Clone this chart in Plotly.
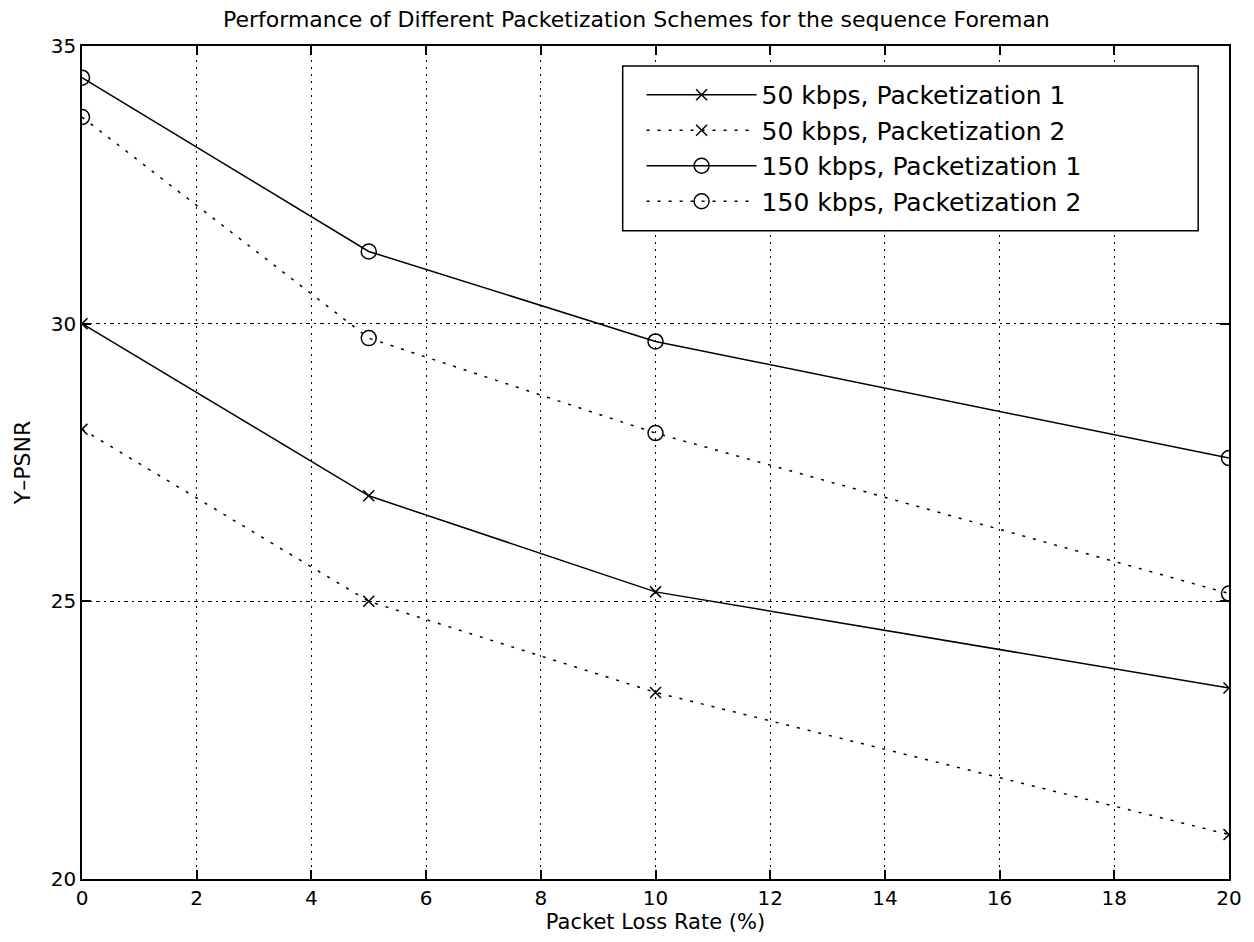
import plotly.graph_objects as go

# Data
loss_rate = [0, 5, 10, 20]
psnr_50_p1 = [30.0, 26.9, 25.17, 23.44]
psnr_50_p2 = [28.1, 25.0, 23.36, 20.8]
psnr_150_p1 = [34.43, 31.3, 29.68, 27.58]
psnr_150_p2 = [33.72, 29.74, 28.03, 25.14]

series_names = [
    "50 kbps, Packetization 1",
    "50 kbps, Packetization 2",
    "150 kbps, Packetization 1",
    "150 kbps, Packetization 2",
]
x_ticks = [0, 2, 4, 6, 8, 10, 12, 14, 16, 18, 20]
y_ticks = [20, 25, 30, 35]

FONT = "DejaVu Sans"
dotted = "3px,8px"

fig = go.Figure()

def add(y, name, dash, symbol, size):
    fig.add_trace(go.Scatter(
        x=loss_rate, y=y, name=name, mode="lines+markers",
        line=dict(color="black", width=1.5, dash=dash),
        marker=dict(symbol=symbol, size=size, color="black",
                    line=dict(color="black", width=1.5)),
    ))

add(psnr_50_p1, series_names[0], "solid", "x-thin-open", 11)
add(psnr_50_p2, series_names[1], dotted, "x-thin-open", 11)
add(psnr_150_p1, series_names[2], "solid", "circle-open", 15)
add(psnr_150_p2, series_names[3], dotted, "circle-open", 15)

# page body has an 8px default margin; compensate so the plot area
# lands at screen x 82..1236, y 46..880
BODY = 8
W, H = 1254 - BODY, 942 - BODY
PLOT_L, PLOT_R, PLOT_T, PLOT_B = 82, 1236, 46, 880
L = PLOT_L - BODY
T = PLOT_T - BODY
R = (BODY + W) - PLOT_R
B = (BODY + H) - PLOT_B
pw, ph = PLOT_R - PLOT_L, PLOT_B - PLOT_T

def px_x(p):
    return (p - PLOT_L) / pw

def px_y(p):
    return (PLOT_B - p) / ph

fig.add_shape(type="rect", xref="paper", yref="paper",
              x0=px_x(626), x1=px_x(1205), y0=px_y(231), y1=px_y(66),
              line=dict(color="black", width=1.5), fillcolor="white",
              layer="above")

fig.update_layout(
    width=W, height=H,
    margin=dict(l=L, r=R, t=T, b=B),
    paper_bgcolor="white", plot_bgcolor="white",
    font=dict(family=FONT, color="black", size=20),
    title=dict(text="Performance of Different Packetization Schemes for the sequence Foreman",
               x=px_x(664), xanchor="center", y=1 - (19 - BODY) / H, yanchor="middle",
               font=dict(family=FONT, size=22, color="black")),
    showlegend=True,
    legend=dict(x=px_x(645), y=px_y(72), xanchor="left", yanchor="top",
                bgcolor="rgba(0,0,0,0)", borderwidth=0,
                font=dict(family=FONT, size=25, color="black"),
                itemwidth=110, tracegroupgap=0),
    xaxis=dict(range=[0, 20], tickvals=x_ticks, ticktext=[str(v) for v in x_ticks],
               showgrid=True, gridcolor="black", gridwidth=1, griddash="2px,5px",
               showline=True, linecolor="black", linewidth=1.5, mirror="allticks",
               ticks="inside", ticklen=9, tickwidth=1.5, tickcolor="black",
               zeroline=False, tickfont=dict(size=20),
               title=dict(text="Packet Loss Rate (%)", font=dict(size=21), standoff=6)),
    yaxis=dict(range=[20, 35], tickvals=y_ticks, ticktext=[str(v) for v in y_ticks],
               showgrid=True, gridcolor="black", gridwidth=1, griddash="4px,4px,2px,4px",
               showline=True, linecolor="black", linewidth=1.5, mirror="allticks",
               ticks="inside", ticklen=9, tickwidth=1.5, tickcolor="black",
               zeroline=False, tickfont=dict(size=20),
               title=dict(text="Y\u2013PSNR", font=dict(size=22), standoff=14)),
)

fig.write_html("out.html")
